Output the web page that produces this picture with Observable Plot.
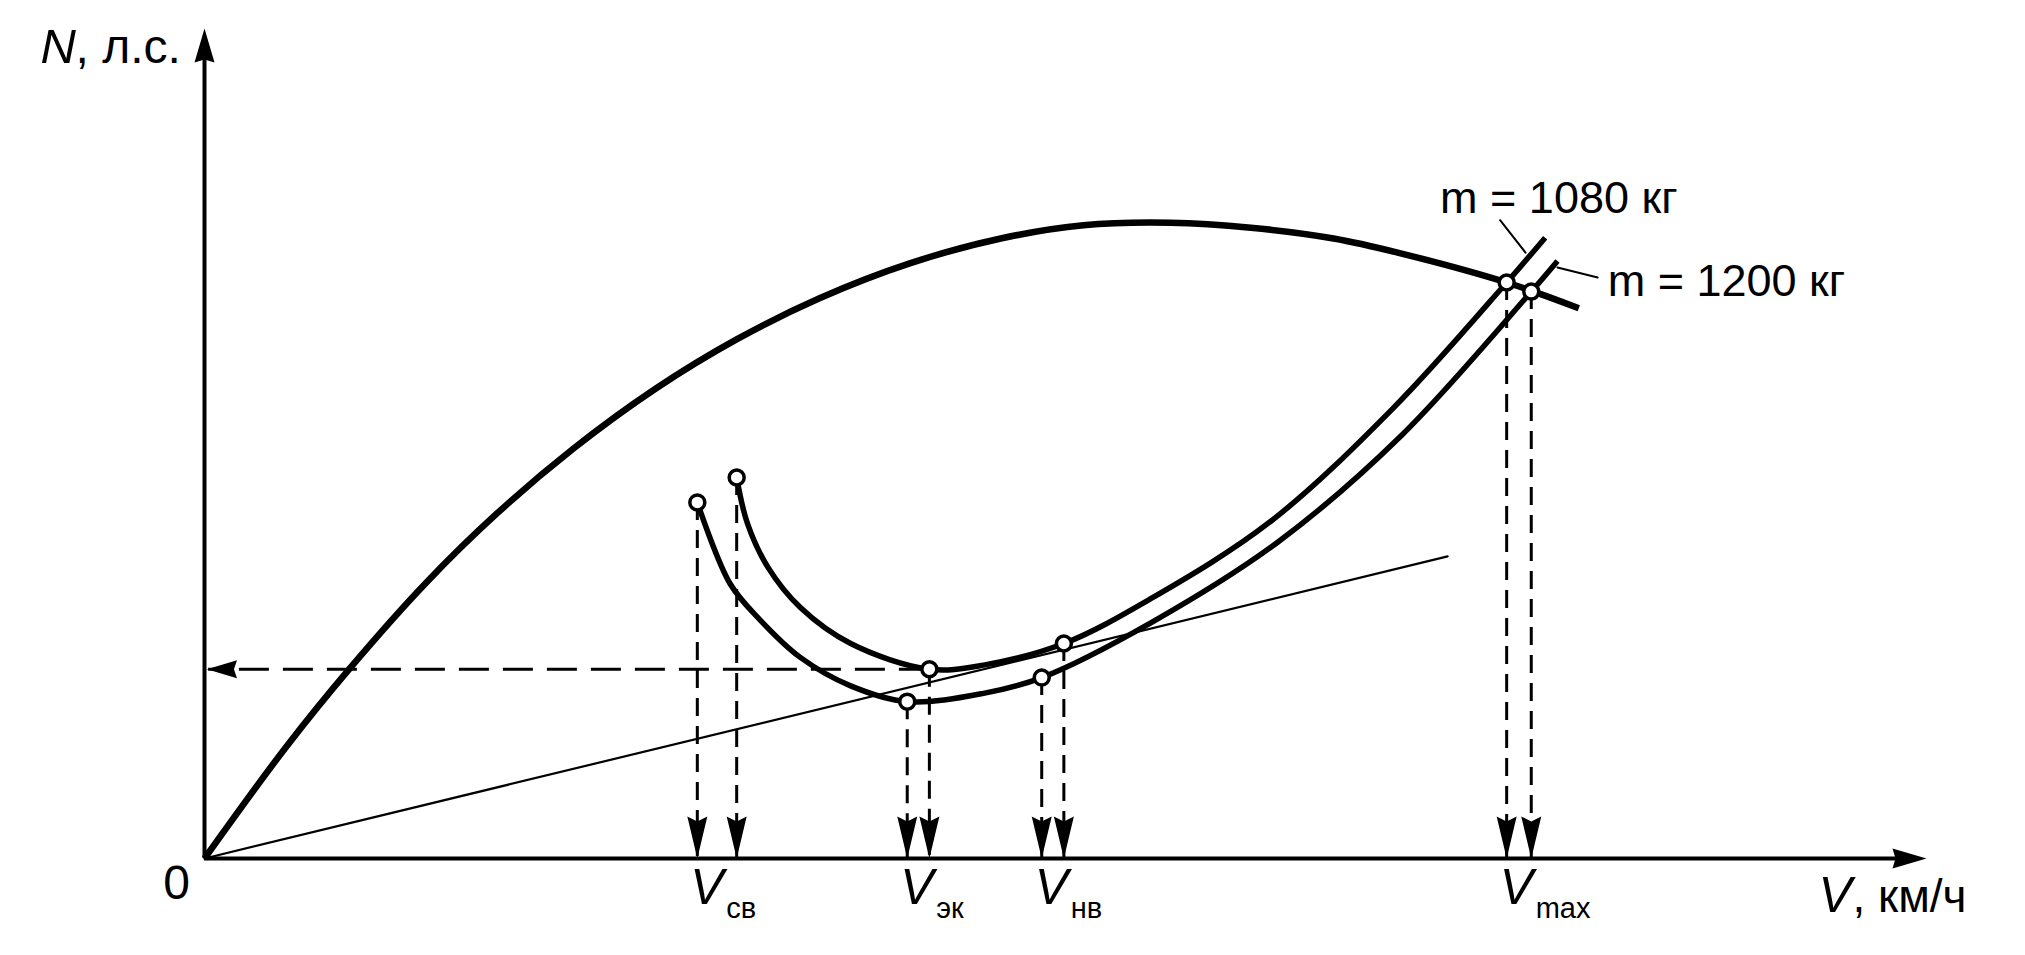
<!DOCTYPE html>
<html>
<head>
<meta charset="utf-8">
<script src="https://cdn.jsdelivr.net/npm/d3@7"></script>
<script src="https://cdn.jsdelivr.net/npm/@observablehq/plot@0.6"></script>
<style>
  html, body { margin: 0; padding: 0; background: #fff; }
  #chart svg { display: block; }
</style>
</head>
<body>
<div id="chart"></div>
<script>
// ---------- data (V in km/h-like units, N in hp-like units; no ticks in original) ----------
const powerV = [0, 10, 17.8, 27, 35.7, 45, 55, 65, 75, 86, 97.1, 107.2, 117.8, 127.6, 137.7, 145.5, 158.8, 167.6];
const powerN = [0, 13.5, 23.0, 33.2, 41.6, 49.4, 56.6, 62.6, 67.5, 71.7, 74.7, 76.3, 76.6, 76.0, 74.7, 73.0, 69.4, 66.3];

const m1080V = [64.9, 66.2, 68.7, 72.7, 78.8, 88.4, 95, 104.8, 115.4, 130, 145, 158.8, 163.5];
const m1080N = [45.9, 40.4, 35.1, 30.2, 25.9, 22.8, 23.3, 25.9, 31.3, 40.6, 54.3, 69.4, 74.8];

const m1200V = [60.1, 64.1, 67.8, 72.7, 78.8, 85.7, 95, 102.1, 115.4, 131, 146, 161.8, 165.0];
const m1200N = [42.9, 33.1, 28.7, 24.2, 20.8, 18.9, 19.9, 21.8, 28.4, 38.2, 51.0, 68.3, 72.0];

const tangentV = [0, 151.6];
const tangentN = [0, 36.4];

const speedNames = ["св", "эк", "нв", "max"];
const speed1080V = [64.9, 88.4, 104.8, 158.8];
const speed1080N = [45.9, 22.8, 25.9, 69.4];
const speed1200V = [60.1, 85.7, 102.1, 161.8];
const speed1200N = [42.9, 18.9, 21.8, 68.3];

const leader1080V = [158.0, 161.1];
const leader1080N = [76.9, 73.0];
const leader1200V = [165.0, 169.9];
const leader1200N = [71.2, 70.0];

const massLabels = ["m = 1080 кг", "m = 1200 кг"];
const yTitle = ["N", ", л.с."];
const xTitle = ["V", ", км/ч"];

const xMax = 210, yMax = 100;

// ---------- helpers ----------
const rows = (V, N) => V.map((v, i) => ({V: v, N: N[i]}));
const power = rows(powerV, powerN);
const c1080 = rows(m1080V, m1080N);
const c1200 = rows(m1200V, m1200N);
const tangent = rows(tangentV, tangentN);
const pts = [...rows(speed1080V, speed1080N), ...rows(speed1200V, speed1200N)];
const speedLabels = speedNames.map((name, i) => ({name, V: Math.min(speed1080V[i], speed1200V[i])}));
const ecoLevel = [{V: speed1080V[1], N: speed1080N[1]}];
const lead1080 = rows(leader1080V, leader1080N);
const lead1200 = rows(leader1200V, leader1200N);

// filled arrowhead symbol: tip at the anchor, pointing down (rotate for other directions)
function arrowHead(len, hw, notch) {
  return {
    draw(ctx) {
      ctx.moveTo(0, 0);
      ctx.lineTo(-hw, -len);
      ctx.lineTo(0, -len + notch);
      ctx.lineTo(hw, -len);
      ctx.closePath();
    }
  };
}

const font = "'Liberation Sans', Arial, Helvetica, sans-serif";

const chart = Plot.plot({
  width: 2025,
  height: 955,
  marginLeft: 204,
  marginRight: 99,
  marginTop: 28,
  marginBottom: 97,
  x: {domain: [0, xMax], axis: null},
  y: {domain: [0, yMax], axis: null},
  style: {fontFamily: font, background: "white", color: "black", overflow: "visible"},
  marks: [
    // axes
    Plot.ruleY([0], {x1: () => 0, x2: () => xMax - 2, stroke: "black", strokeWidth: 4}),
    Plot.ruleX([0], {y1: () => 0, y2: () => yMax - 2, stroke: "black", strokeWidth: 4}),
    Plot.dot([{V: xMax, N: 0}], {x: "V", y: "N", symbol: arrowHead(34, 10, 3), rotate: -90, fill: "black", stroke: "none"}),
    Plot.dot([{V: 0, N: yMax}], {x: "V", y: "N", symbol: arrowHead(34, 10, 3), rotate: 180, fill: "black", stroke: "none"}),

    // thin tangent line
    Plot.line(tangent, {x: "V", y: "N", stroke: "black", strokeWidth: 2.2}),

    // dashed guide lines
    Plot.ruleY(ecoLevel, {y: "N", x1: "V", x2: () => 0.5, stroke: "black", strokeWidth: 3, strokeDasharray: "30,14"}),
    Plot.dot(ecoLevel, {x: () => 0.3, y: "N", symbol: arrowHead(30, 9, 3), rotate: 90, fill: "black", stroke: "none"}),
    Plot.ruleX(pts, {x: "V", y1: "N", y2: () => 0, stroke: "black", strokeWidth: 3, strokeDasharray: "18,10"}),
    Plot.dot(pts, {x: "V", y: () => 0, symbol: arrowHead(42, 10, 5), fill: "black", stroke: "none"}),

    // curves
    Plot.line(power, {x: "V", y: "N", curve: "catmull-rom", stroke: "black", strokeWidth: 6.5, strokeLinecap: "butt"}),
    Plot.line(c1080, {x: "V", y: "N", curve: "catmull-rom", stroke: "black", strokeWidth: 5.5, strokeLinecap: "butt"}),
    Plot.line(c1200, {x: "V", y: "N", curve: "catmull-rom", stroke: "black", strokeWidth: 5.5, strokeLinecap: "butt"}),

    // leaders
    Plot.line(lead1080, {x: "V", y: "N", stroke: "black", strokeWidth: 2}),
    Plot.line(lead1200, {x: "V", y: "N", stroke: "black", strokeWidth: 2}),

    // points
    Plot.dot(pts, {x: "V", y: "N", r: 7.5, fill: "white", stroke: "black", strokeWidth: 3.5}),

    // texts
    Plot.text([yTitle[0]], {frameAnchor: "top-left", text: d => d, dx: -164, dy: 34, textAnchor: "start", lineAnchor: "bottom", fontSize: 49, fontStyle: "italic"}),
    Plot.text([yTitle[1]], {frameAnchor: "top-left", text: d => d, dx: -129, dy: 34, textAnchor: "start", lineAnchor: "bottom", fontSize: 48}),
    Plot.text(["0"], {x: () => 0, y: () => 0, text: d => d, dx: -28, dy: 40, textAnchor: "middle", lineAnchor: "bottom", fontSize: 48}),
    Plot.text(speedLabels, {x: "V", y: () => 0, text: () => "V", dx: -7, dy: 45, textAnchor: "start", lineAnchor: "bottom", fontSize: 50, fontStyle: "italic"}),
    Plot.text(speedLabels, {x: "V", y: () => 0, text: "name", dx: 29, dy: 59, textAnchor: "start", lineAnchor: "bottom", fontSize: 29}),
    Plot.text([xTitle[0]], {x: () => xMax, y: () => 0, text: d => d, dx: -108, dy: 53, textAnchor: "start", lineAnchor: "bottom", fontSize: 50, fontStyle: "italic"}),
    Plot.text([xTitle[1]], {x: () => xMax, y: () => 0, text: d => d, dx: -74, dy: 53, textAnchor: "start", lineAnchor: "bottom", fontSize: 46}),
    Plot.text([massLabels[0]], {x: () => leader1080V[0], y: () => leader1080N[0], text: d => d, dx: -60, dy: -7, textAnchor: "start", lineAnchor: "bottom", fontSize: 45}),
    Plot.text([massLabels[1]], {x: () => leader1200V[1], y: () => leader1200N[1], text: d => d, dx: 10, dy: 18, textAnchor: "start", lineAnchor: "bottom", fontSize: 45})
  ]
});

document.getElementById("chart").appendChild(chart);
</script>
</body>
</html>
